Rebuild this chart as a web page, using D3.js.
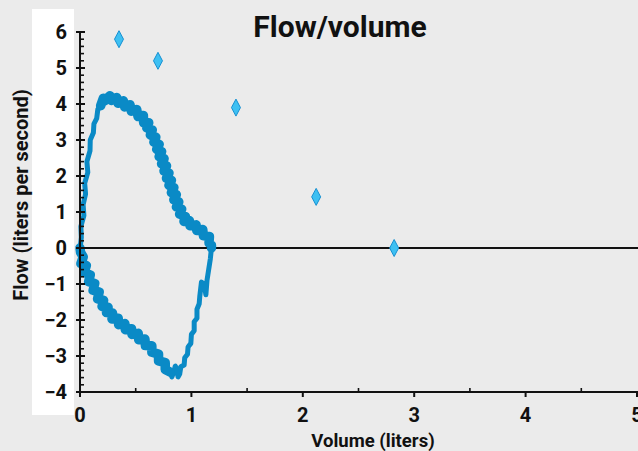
<!DOCTYPE html>
<html><head><meta charset="utf-8">
<script src="https://cdn.jsdelivr.net/npm/d3@7/dist/d3.min.js"></script>
<style>
html,body{margin:0;padding:0;background:#ebebeb;}
svg{display:block;font-family:Roboto,"Liberation Sans",sans-serif;font-weight:bold;}
</style></head>
<body><svg id="c" width="638" height="451"></svg>
<script>
// ---- data ----
const chartTitle = "Flow/volume";
const xTitle = "Volume (liters)";
const yTitle = "Flow (liters per second)";
const xTickValues = [0, 1, 2, 3, 4, 5];
const yTickValues = [-4, -3, -2, -1, 0, 1, 2, 3, 4, 5, 6];
// predicted points (volume, flow)
const predVolume = [0.35, 0.70, 1.40, 2.12, 2.82];
const predFlow   = [5.80, 5.20, 3.90, 1.42, 0.00];
// measured loop, expiratory rise (volume, flow)
const expRise = [
 [0.00,-0.05],[0.012,0.3],[0.008,0.6],[0.035,0.9],[0.028,1.2],[0.05,1.5],[0.042,1.8],[0.07,2.1],[0.062,2.4],
 [0.09,2.7],[0.092,3.0],[0.12,3.2],[0.125,3.45],[0.15,3.6],[0.16,3.85],[0.185,3.95],[0.209,4.16]
];
// expiratory fall (volume, flow)
const expFall = [
 [0.185,3.95],[0.209,4.16],[0.221,4.09],[0.269,4.23],[0.281,4.10],[0.329,4.18],[0.341,4.02],[0.389,4.09],
 [0.401,3.92],[0.449,3.98],[0.461,3.80],[0.509,3.85],[0.521,3.65],[0.569,3.68],[0.571,3.48],
 [0.617,3.48],[0.599,3.34],[0.649,3.28],[0.631,3.14],[0.681,3.08],[0.663,2.94],[0.711,2.88],[0.688,2.74],
 [0.733,2.68],[0.710,2.54],[0.755,2.48],[0.732,2.34],[0.777,2.28],[0.754,2.14],[0.799,2.08],[0.776,1.94],
 [0.821,1.88],[0.798,1.74],[0.843,1.68],[0.820,1.54],[0.865,1.48],[0.842,1.34],[0.887,1.28],[0.865,1.14],
 [0.913,1.08],[0.894,0.94],[0.945,0.88],
 [0.933,0.737],[0.982,0.763],[0.988,0.617],[1.042,0.643],[1.048,0.487],[1.102,0.513],[1.108,0.337],
 [1.162,0.323],[1.158,0.137],[1.18,0.08],[1.18,0.0]
];
// inspiratory limb, right side (volume, flow)
const inspRight = [
 [1.18,0.0],[1.17,-0.3],[1.155,-0.6],[1.14,-0.9],[1.13,-1.3],[1.115,-1.0],[1.09,-0.95],[1.075,-1.35],
 [1.07,-1.55],[1.05,-1.7],[1.05,-1.95],[1.025,-2.05],[1.025,-2.3],[1.0,-2.4],[0.995,-2.65],[0.97,-2.75],
 [0.965,-2.95],[0.94,-3.05],[0.935,-3.25],[0.905,-3.3],[0.895,-3.5],[0.88,-3.58],
 [0.868,-3.35],[0.855,-3.28],[0.842,-3.45],[0.825,-3.58],[0.81,-3.45]
];
// inspiratory limb, lower left (volume, flow)
const inspLeft = [
 [0.81,-3.45],[0.765,-3.374],[0.765,-3.186],[0.705,-3.134],[0.705,-2.946],[0.645,-2.894],[0.645,-2.716],
 [0.587,-2.71],[0.583,-2.53],[0.527,-2.55],[0.523,-2.37],[0.467,-2.40],[0.463,-2.24],[0.407,-2.27],
 [0.403,-2.10],[0.347,-2.13],[0.343,-1.95],[0.287,-1.97],[0.292,-1.806],[0.238,-1.794],[0.252,-1.646],
 [0.198,-1.624],[0.212,-1.456],[0.158,-1.414],[0.172,-1.226],[0.118,-1.174],[0.132,-0.986],[0.078,-0.934],
 [0.092,-0.746],[0.038,-0.684],[0.057,-0.486],[0.008,-0.434],[0.029,-0.246],[0.005,-0.12],[0.0,0.0]
];

// ---- chart ----
const svg = d3.select("#c");
const x = d3.scaleLinear().domain([0, 5]).range([80, 637]);
const y = d3.scaleLinear().domain([-4, 6]).range([392, 32]);

svg.append("rect").attr("x", 32).attr("y", 9).attr("width", 42).attr("height", 406).attr("fill", "#ffffff");

// zero line
svg.append("line").attr("x1", x(0)).attr("x2", 638).attr("y1", y(0)).attr("y2", y(0))
  .attr("stroke", "#111").attr("stroke-width", 2);

// loop
const line = d3.line().x(d => x(d[0])).y(d => y(d[1]));
const loopColor = "#0a8ac6";
[[expRise, 5], [inspRight, 5], [expFall, 9.5], [inspLeft, 9.5]].forEach(([arr, w]) => {
  svg.append("path").attr("d", line(arr)).attr("fill", "none")
    .attr("stroke", loopColor).attr("stroke-width", w)
    .attr("stroke-linejoin", "round").attr("stroke-linecap", "round");
});

// axes lines
svg.append("line").attr("x1", x(0)).attr("x2", x(0)).attr("y1", y(6)).attr("y2", y(-4) + 5)
  .attr("stroke", "#111").attr("stroke-width", 2);
svg.append("line").attr("x1", x(0) - 4).attr("x2", 638).attr("y1", y(-4)).attr("y2", y(-4))
  .attr("stroke", "#111").attr("stroke-width", 2);

// y ticks
const yMinor = d3.range(-40, 61, 2).map(v => v / 10).filter(v => !Number.isInteger(v));
svg.selectAll(".ymin").data(yMinor).enter().append("line")
  .attr("x1", x(0)).attr("x2", x(0) + 4).attr("y1", d => y(d)).attr("y2", d => y(d))
  .attr("stroke", "#111").attr("stroke-width", 1.6);
svg.selectAll(".ymaj").data(yTickValues).enter().append("line")
  .attr("x1", x(0) - 4).attr("x2", x(0) + 5).attr("y1", d => y(d)).attr("y2", d => y(d))
  .attr("stroke", "#111").attr("stroke-width", 2);
const fmt = d3.format("d");
svg.selectAll(".ylab").data(yTickValues).enter().append("text")
  .attr("x", 67).attr("y", d => y(d)).attr("dy", "0.36em")
  .attr("text-anchor", "end").attr("font-size", 20).attr("fill", "#111")
  .text(d => fmt(d));

// x ticks
const xMinor = [0.5, 1.5, 2.5, 3.5, 4.5];
svg.selectAll(".xmin").data(xMinor).enter().append("line")
  .attr("x1", d => x(d)).attr("x2", d => x(d)).attr("y1", y(-4)).attr("y2", y(-4) - 4)
  .attr("stroke", "#111").attr("stroke-width", 1.6);
svg.selectAll(".xmaj").data(xTickValues).enter().append("line")
  .attr("x1", d => x(d)).attr("x2", d => x(d)).attr("y1", y(-4)).attr("y2", y(-4) + 5)
  .attr("stroke", "#111").attr("stroke-width", 2);
svg.selectAll(".xlab").data(xTickValues).enter().append("text")
  .attr("x", d => x(d)).attr("y", 422)
  .attr("text-anchor", "middle").attr("font-size", 20).attr("fill", "#111")
  .text(d => fmt(d));

// predicted diamonds
const pts = predVolume.map((v, i) => [v, predFlow[i]]);
svg.selectAll(".pred").data(pts).enter().append("path")
  .attr("d", "M0,-8.5L4.5,0L0,8.5L-4.5,0Z")
  .attr("transform", d => `translate(${x(d[0])},${y(d[1])})`)
  .attr("fill", "#3ec0f2").attr("stroke", "#1690d2").attr("stroke-width", 1);

// titles
svg.append("text").attr("x", 340).attr("y", 37).attr("text-anchor", "middle")
  .attr("font-size", 30).attr("fill", "#111").text(chartTitle);
svg.append("text").attr("x", 373).attr("y", 447).attr("text-anchor", "middle")
  .attr("font-size", 18.5).attr("fill", "#111").text(xTitle);
svg.append("text").attr("transform", "translate(28,195) rotate(-90)").attr("text-anchor", "middle")
  .attr("font-size", 20).attr("fill", "#111").text(yTitle);
</script></body></html>
